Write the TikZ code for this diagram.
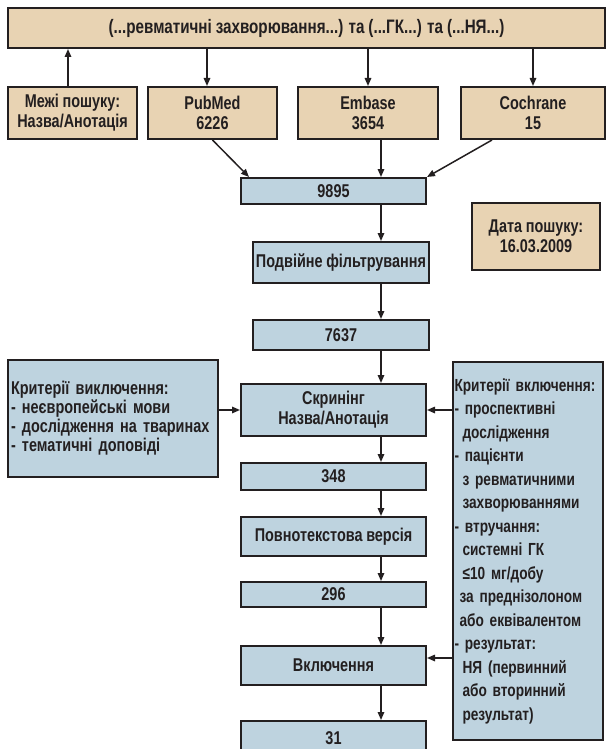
\documentclass[tikz,border=0pt]{standalone}
\usepackage{fontspec}
\setmainfont{Liberation Sans}[FakeStretch=0.78]
\usetikzlibrary{arrows.meta}
\definecolor{SearchTan}{HTML}{E8D3B3}
\definecolor{StageBlue}{HTML}{BED3DF}
\definecolor{InkDark}{HTML}{231F20}
\newcommand{\boxfont}[2]{\bfseries\fontsize{#1}{#2}\selectfont\fontdimen2\font=0.2em}

\begin{document}
\begin{tikzpicture}[x=1pt, y={(0pt,-1pt)},
    every node/.style={font=\boxfont{18.5}{20}, text=InkDark},
    tanbox/.style={draw=InkDark, line width=2pt, fill=SearchTan, align=center, inner sep=0pt},
    bluebox/.style={draw=InkDark, line width=2pt, fill=StageBlue, align=center, inner sep=0pt},
    flow/.style={-{Triangle[length=8pt,width=6.5pt]}, line width=1.5pt, draw=InkDark}]
    \useasboundingbox (0,0) rectangle (610,749);

    % search terms and databases
    \node[tanbox, minimum width=597pt, minimum height=40pt, font=\boxfont{19.5}{21}] (query) at (306.5,28) {(...ревматичні захворювання...) та (...ГК...) та (...НЯ...)};
    \node[tanbox, minimum width=129pt, minimum height=52pt] (limits) at (72.5,113) {Межі пошуку:\\Назва/Анотація};
    \node[tanbox, minimum width=129pt, minimum height=52pt] (pubmed) at (212.5,113) {PubMed\\6226};
    \node[tanbox, minimum width=140pt, minimum height=52pt] (embase) at (368,113) {Embase\\3654};
    \node[tanbox, minimum width=144pt, minimum height=52pt] (cochrane) at (533,113) {Cochrane\\15};
    \node[tanbox, minimum width=128pt, minimum height=67pt] (date) at (536,236.5) {Дата пошуку:\\16.03.2009};

    % selection stages
    \coordinate (axis) at (381,0);
    \node[bluebox, minimum width=185pt, minimum height=26pt] (total) at (333.5,191) {9895};
    \node[bluebox, minimum width=176pt, minimum height=41pt] (dedup) at (341,262.5) {Подвійне фільтрування};
    \node[bluebox, minimum width=176pt, minimum height=30pt] (kept) at (341,335) {7637};
    \node[bluebox, minimum width=185pt, minimum height=52pt] (screen) at (333.5,410) {Скринінг\\Назва/Анотація};
    \node[bluebox, minimum width=185pt, minimum height=27pt] (screened) at (333.5,476.5) {348};
    \node[bluebox, minimum width=185pt, minimum height=39pt] (fulltext) at (333.5,536.5) {Повнотекстова версія};
    \node[bluebox, minimum width=185pt, minimum height=25pt] (read) at (333.5,594.5) {296};
    \node[bluebox, minimum width=185pt, minimum height=39pt] (include) at (333.5,665.5) {Включення};
    \node[bluebox, minimum width=185pt, minimum height=34pt] (final) at (333.5,738) {31};

    % criteria
    \node[bluebox, align=left, minimum width=210pt, minimum height=117pt, text width=204pt,
        font=\boxfont{18.5}{19}] (exclude) at (113,418.5)
        {Критерії виключення:\\- неєвропейські мови\\- дослідження на тваринах\\- тематичні доповіді};
    \node[bluebox, align=left, minimum width=150pt, minimum height=378pt, text width=147pt,
        font=\boxfont{17.5}{23.5}] (criteria) at (528,551)
        {Критерії включення:\\- проспективні\\\hspace*{8pt}дослідження\\- пацієнти\\\hspace*{8pt}з ревматичними\\\hspace*{8pt}захворюваннями\\- втручання:\\\hspace*{8pt}системні ГК\\\hspace*{8pt}≤10 мг/добу\\\hspace*{5pt}за преднізолоном\\\hspace*{5pt}або еквівалентом\\- результат:\\\hspace*{8pt}НЯ (первинний\\\hspace*{8pt}або вторинний\\\hspace*{8pt}результат)};

    \draw[flow] (limits.north -| 68,0) -- (query.south -| 68,0);
    \draw[flow] (query.south -| 207,0) -- (pubmed.north -| 207,0);
    \draw[flow] (query.south -| embase) -- (embase.north);
    \draw[flow] (query.south -| cochrane) -- (cochrane.north);
    \draw[flow] (pubmed.south) -- ([xshift=9pt]total.north west);
    \draw[flow] (embase.south -| axis) -- (total.north -| axis);
    \draw[flow] ([xshift=32pt]cochrane.south west) -- (total.north east);
    \draw[flow] (total.south -| axis) -- (dedup.north -| axis);
    \draw[flow] (dedup.south -| axis) -- (kept.north -| axis);
    \draw[flow] (kept.south -| axis) -- (screen.north -| axis);
    \draw[flow] (screen.south -| axis) -- (screened.north -| axis);
    \draw[flow] (screened.south -| axis) -- (fulltext.north -| axis);
    \draw[flow] (fulltext.south -| axis) -- (read.north -| axis);
    \draw[flow] (read.south -| axis) -- (include.north -| axis);
    \draw[flow] (include.south -| axis) -- (final.north -| axis);
    \draw[flow] (exclude.east |- screen) -- (screen.west);
    \draw[flow] (criteria.west |- screen) -- (screen.east);
    \draw[flow] (criteria.west |- 0,658) -- (include.east |- 0,658);
\end{tikzpicture}
\end{document}
